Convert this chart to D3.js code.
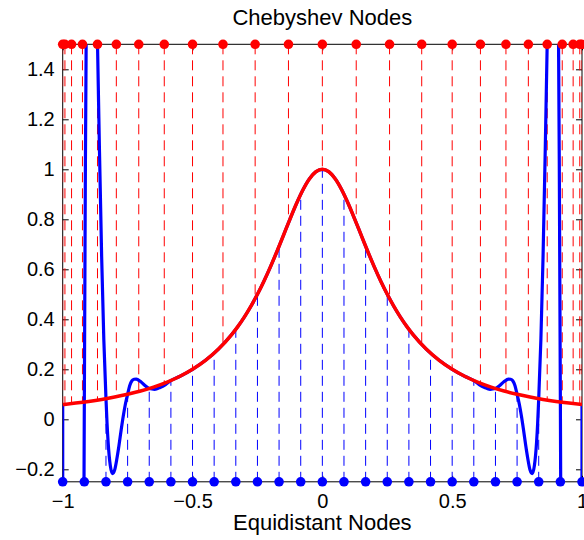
<!DOCTYPE html>
<html>
<head>
<meta charset="utf-8">
<script src="https://cdn.jsdelivr.net/npm/d3@7/dist/d3.min.js"></script>
<style>
  html, body { margin: 0; padding: 0; background: #fff; }
  svg { display: block; }
  text { font-family: "Liberation Sans", Arial, Helvetica, sans-serif; fill: #000; }
</style>
</head>
<body>
<svg id="chart" width="584" height="540"></svg>
<script>
// ---- data ----
const title = "Chebyshev Nodes";
const xLabel = "Equidistant Nodes";
const xTicks = [-1, -0.5, 0, 0.5, 1];
const yTicks = [-0.2, 0, 0.2, 0.4, 0.6, 0.8, 1, 1.2, 1.4];

// equidistant nodes and function values there
const equiX = [-1, -0.9167, -0.8333, -0.75, -0.6667, -0.5833, -0.5, -0.4167, -0.3333, -0.25, -0.1667, -0.0833, 0,
               0.0833, 0.1667, 0.25, 0.3333, 0.4167, 0.5, 0.5833, 0.6667, 0.75, 0.8333, 0.9167, 1];
const equiY = [0.0588, 0.0693, 0.0826, 0.1, 0.1233, 0.1552, 0.2, 0.2647, 0.36, 0.5, 0.6923, 0.9, 1,
               0.9, 0.6923, 0.5, 0.36, 0.2647, 0.2, 0.1552, 0.1233, 0.1, 0.0826, 0.0693, 0.0588];

// Chebyshev nodes and function values there
const chebX = [-1, -0.9914, -0.9659, -0.9239, -0.866, -0.7934, -0.7071, -0.6088, -0.5, -0.3827, -0.2588, -0.1305, 0,
               0.1305, 0.2588, 0.3827, 0.5, 0.6088, 0.7071, 0.7934, 0.866, 0.9239, 0.9659, 0.9914, 1];
const chebY = [0.0588, 0.0598, 0.0628, 0.0682, 0.0769, 0.0903, 0.1111, 0.1443, 0.2, 0.2991, 0.4826, 0.7858, 1,
               0.7858, 0.4826, 0.2991, 0.2, 0.1443, 0.1111, 0.0903, 0.0769, 0.0682, 0.0628, 0.0598, 0.0588];

// red curve (Chebyshev interpolant) samples
const redX = [-1, -0.95, -0.9, -0.85, -0.8, -0.75, -0.7, -0.65, -0.6, -0.55, -0.5, -0.45, -0.4, -0.35, -0.325, -0.3, -0.275,
              -0.25, -0.225, -0.2, -0.175, -0.15, -0.125, -0.1, -0.075, -0.05, -0.025, 0,
              0.025, 0.05, 0.075, 0.1, 0.125, 0.15, 0.175, 0.2, 0.225, 0.25, 0.275, 0.3, 0.325, 0.35, 0.4, 0.45,
              0.5, 0.55, 0.6, 0.65, 0.7, 0.75, 0.8, 0.85, 0.9, 0.95, 1];
const redY = [0.0588, 0.0648, 0.0716, 0.0796, 0.089, 0.1, 0.1131, 0.1289, 0.1479, 0.1712, 0.2, 0.2358, 0.2809, 0.3378, 0.3717, 0.4098, 0.4525,
              0.5, 0.5525, 0.6098, 0.6711, 0.7353, 0.8, 0.8621, 0.9174, 0.9615, 0.9901, 1,
              0.9901, 0.9615, 0.9174, 0.8621, 0.8, 0.7353, 0.6711, 0.6098, 0.5525, 0.5, 0.4525, 0.4098, 0.3717, 0.3378, 0.2809, 0.2358,
              0.2, 0.1712, 0.1479, 0.1289, 0.1131, 0.1, 0.089, 0.0796, 0.0716, 0.0648, 0.0588];

// blue curve (equidistant interpolant) samples
const blueX = [-1, -0.9992, -0.9917, -0.981, -0.9583, -0.925, -0.9183, -0.9167, -0.9125, -0.9083, -0.9042, -0.9, -0.8917, -0.8833,
               -0.875, -0.8667, -0.8583, -0.85, -0.8417, -0.8333, -0.8292, -0.825, -0.8167, -0.8083, -0.8, -0.7917, -0.7833,
               -0.775, -0.7667, -0.7583, -0.75, -0.7417, -0.7333, -0.725, -0.7167, -0.7, -0.6833, -0.6667, -0.646, -0.625,
               -0.604, -0.5833, -0.55, -0.5, -0.45, -0.4, -0.35, -0.325, -0.3, -0.275, -0.25, -0.225, -0.2, -0.175, -0.15,
               -0.125, -0.1, -0.075, -0.05, -0.025, 0,
               0.025, 0.05, 0.075, 0.1, 0.125, 0.15, 0.175, 0.2, 0.225, 0.25, 0.275, 0.3, 0.325, 0.35, 0.4, 0.45, 0.5, 0.55,
               0.5833, 0.604, 0.625, 0.646, 0.6667, 0.6833, 0.7, 0.7167, 0.725, 0.7333, 0.7417, 0.75, 0.7583, 0.7667, 0.775,
               0.7833, 0.7917, 0.8, 0.8083, 0.8167, 0.825, 0.8292, 0.8333, 0.8417, 0.85, 0.8583, 0.8667, 0.875, 0.8833,
               0.8917, 0.9, 0.9042, 0.9083, 0.9125, 0.9167, 0.9183, 0.925, 0.9583, 0.981, 0.9917, 0.9992, 1];
const blueY = [0.059, -4.5, -31.7, -43, -27, -2.5, -0.34, 0.069, 1.03, 1.73, 2.21, 2.51, 2.67, 2.45,
               2.04, 1.545, 1.07, 0.65, 0.32, 0.083, -0.016, -0.092, -0.185, -0.217, -0.203, -0.16, -0.105,
               -0.044, 0.013, 0.062, 0.1, 0.135, 0.154, 0.16, 0.161, 0.151, 0.135, 0.123, 0.12, 0.127,
               0.139, 0.1552, 0.1712, 0.2, 0.2358, 0.2809, 0.3378, 0.3717, 0.4098, 0.4525, 0.5, 0.5525, 0.6098, 0.6711, 0.7353,
               0.8, 0.8621, 0.9174, 0.9615, 0.9901, 1,
               0.9901, 0.9615, 0.9174, 0.8621, 0.8, 0.7353, 0.6711, 0.6098, 0.5525, 0.5, 0.4525, 0.4098, 0.3717, 0.3378, 0.2809, 0.2358, 0.2, 0.1712,
               0.1552, 0.139, 0.127, 0.12, 0.123, 0.135, 0.151, 0.161, 0.16, 0.154, 0.135, 0.1, 0.062, 0.013, -0.044,
               -0.105, -0.16, -0.203, -0.217, -0.185, -0.092, -0.016, 0.083, 0.32, 0.65, 1.07, 1.545, 2.04, 2.45,
               2.67, 2.51, 2.21, 1.73, 1.03, 0.069, -0.34, -2.5, -27, -43, -31.7, -4.5, 0.059];

const xDomain = [-1, 1];
const yDomain = [-0.25, 1.5];

// ---- drawing ----
const svg = d3.select("#chart");
const mLeft = 62.7, mRight = 582, mTop = 44.3, mBottom = 481.8;
const x = d3.scaleLinear().domain(xDomain).range([mLeft, mRight]);
const y = d3.scaleLinear().domain(yDomain).range([mBottom, mTop]);
const fmt = d3.format("~g");
const FS = 20, FSL = 22;

// axes (below data)
const gL = svg.append("g").attr("transform", `translate(${mLeft},0)`)
  .call(d3.axisLeft(y).tickValues(yTicks).tickFormat(fmt).tickSizeInner(-6).tickSizeOuter(0).tickPadding(8));
const gR = svg.append("g").attr("transform", `translate(${mRight},0)`)
  .call(d3.axisRight(y).tickValues(yTicks).tickFormat("").tickSizeInner(-6).tickSizeOuter(0));
const gB = svg.append("g").attr("transform", `translate(0,${mBottom})`)
  .call(d3.axisBottom(x).tickValues(xTicks).tickFormat(fmt).tickSizeInner(-6).tickSizeOuter(0).tickPadding(12));
const gT = svg.append("g").attr("transform", `translate(0,${mTop})`)
  .call(d3.axisTop(x).tickValues(xTicks).tickFormat("").tickSizeInner(-6).tickSizeOuter(0));
[gL, gR, gB, gT].forEach(g => {
  g.select(".domain").remove();
  g.selectAll(".tick line").attr("stroke", "#000").attr("stroke-width", 1);
  g.selectAll(".tick text").style("font-size", FS + "px").attr("fill", "#000")
    .style("font-family", '"Liberation Sans", Arial, Helvetica, sans-serif');
});
svg.append("rect").attr("x", mLeft).attr("y", mTop).attr("width", mRight - mLeft).attr("height", mBottom - mTop)
  .attr("fill", "none").attr("stroke", "#000").attr("stroke-width", 1);

// clip
svg.append("clipPath").attr("id", "clip").append("rect")
  .attr("x", mLeft).attr("y", mTop).attr("width", mRight - mLeft).attr("height", mBottom - mTop);
const plot = svg.append("g").attr("clip-path", "url(#clip)");

// stems
plot.selectAll("line.bstem").data(equiX).join("line").attr("class", "bstem")
  .attr("x1", d => x(d)).attr("x2", d => x(d))
  .attr("y1", y(yDomain[0])).attr("y2", (d, i) => y(equiY[i]))
  .attr("stroke", "#0000ff").attr("stroke-width", 1).attr("stroke-dasharray", "10,6");
plot.selectAll("line.rstem").data(chebX).join("line").attr("class", "rstem")
  .attr("x1", d => x(d)).attr("x2", d => x(d))
  .attr("y1", y(yDomain[1])).attr("y2", (d, i) => y(chebY[i]))
  .attr("stroke", "#ff0000").attr("stroke-width", 1).attr("stroke-dasharray", "10,6");

// curves
const line = d3.line().x(d => x(d[0])).y(d => y(d[1])).curve(d3.curveMonotoneX);
plot.append("path").datum(blueX.map((v, i) => [v, blueY[i]]))
  .attr("d", line).attr("fill", "none").attr("stroke", "#0000ff").attr("stroke-width", 3.2)
  .attr("stroke-linejoin", "round");
plot.append("path").datum(redX.map((v, i) => [v, redY[i]]))
  .attr("d", line).attr("fill", "none").attr("stroke", "#ff0000").attr("stroke-width", 3.5)
  .attr("stroke-linejoin", "round");

// markers
svg.selectAll("circle.bdot").data(equiX).join("circle").attr("class", "bdot")
  .attr("cx", d => x(d)).attr("cy", y(yDomain[0])).attr("r", 4.8).attr("fill", "#0000ff");
svg.selectAll("circle.rdot").data(chebX).join("circle").attr("class", "rdot")
  .attr("cx", d => x(d)).attr("cy", y(yDomain[1])).attr("r", 4.8).attr("fill", "#ff0000");

// labels
svg.append("text").attr("x", (mLeft + mRight) / 2).attr("y", 25).attr("text-anchor", "middle")
  .style("font-size", FSL + "px").text(title);
svg.append("text").attr("x", (mLeft + mRight) / 2).attr("y", 530).attr("text-anchor", "middle")
  .style("font-size", FSL + "px").text(xLabel);
</script>
</body>
</html>
